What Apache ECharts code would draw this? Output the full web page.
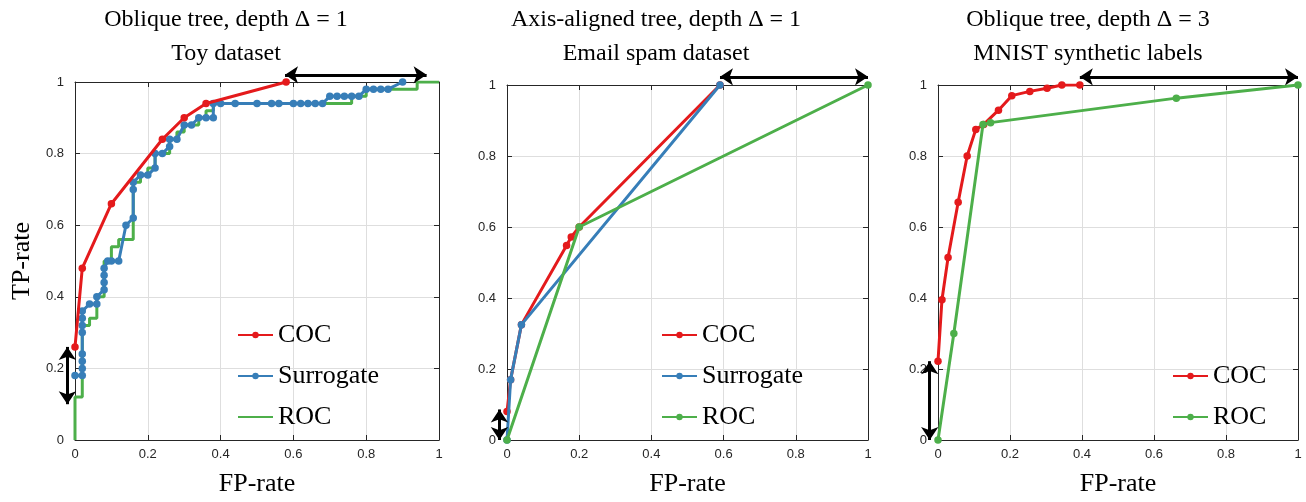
<!DOCTYPE html>
<html>
<head>
<meta charset="utf-8">
<script src="https://cdn.jsdelivr.net/npm/echarts@6/dist/echarts.min.js"></script>
<style>
html,body{margin:0;padding:0;background:#fff;}
#main{width:1306px;height:502px;}
</style>
</head>
<body>
<div id="main"></div>
<script>
// tick labels of both axes
var ticks=[0,0.2,0.4,0.6,0.8,1];

// panel 1 : oblique tree, toy dataset
var toyCOC=[[0,0.26],[0.02,0.48],[0.1,0.66],[0.24,0.84],[0.3,0.9],[0.36,0.94],[0.58,1]];
var toySurrogate=[[0,0.18],[0.02,0.18],[0.02,0.2],[0.02,0.22],[0.02,0.24],[0.02,0.3],[0.02,0.32],[0.02,0.34],
	[0.02,0.36],[0.04,0.38],[0.06,0.38],[0.06,0.4],[0.08,0.42],[0.08,0.44],[0.08,0.46],[0.08,0.48],[0.09,0.5],
	[0.1,0.5],[0.12,0.5],[0.14,0.6],[0.16,0.62],[0.16,0.7],[0.16,0.72],[0.18,0.74],[0.2,0.74],[0.22,0.76],
	[0.22,0.8],[0.24,0.8],[0.26,0.82],[0.26,0.84],[0.28,0.84],[0.3,0.88],[0.32,0.88],[0.34,0.9],[0.36,0.9],
	[0.38,0.9],[0.38,0.94],[0.4,0.94],[0.44,0.94],[0.5,0.94],[0.54,0.94],[0.56,0.94],[0.6,0.94],[0.62,0.94],
	[0.64,0.94],[0.66,0.94],[0.68,0.94],[0.7,0.96],[0.72,0.96],[0.74,0.96],[0.76,0.96],[0.78,0.96],
	[0.8,0.98],[0.82,0.98],[0.84,0.98],[0.86,0.98],[0.9,1]];
var toyROC=[[0,0],[0,0.12],[0.02,0.32],[0.04,0.34],[0.06,0.4],[0.08,0.5],[0.1,0.54],[0.12,0.56],[0.16,0.72],
	[0.18,0.74],[0.2,0.76],[0.22,0.8],[0.26,0.84],[0.28,0.86],[0.3,0.88],[0.34,0.9],[0.36,0.92],[0.38,0.94],
	[0.76,0.96],[0.8,0.98],[0.94,1],[1,1]];
var toyArrows=[[[0.577,1.02],[0.966,1.02]],[[-0.021,0.10],[-0.021,0.26]]];

// panel 2 : axis-aligned tree, email spam
var spamCOC=[[0,0.08],[0.01,0.17],[0.04,0.325],[0.165,0.548],[0.178,0.572],[0.2,0.6],[0.59,1]];
var spamSurrogate=[[0,0],[0.01,0.17],[0.04,0.325],[0.59,1]];
var spamROC=[[0,0],[0.2,0.6],[1,1]];
var spamArrows=[[[0.59,1.023],[1,1.023]],[[-0.021,0],[-0.021,0.086]]];

// panel 3 : oblique tree depth 3, MNIST
var mnistCOC=[[0,0.222],[0.011,0.395],[0.028,0.514],[0.056,0.67],[0.081,0.8],[0.105,0.875],[0.127,0.889],
	[0.168,0.929],[0.205,0.97],[0.255,0.982],[0.303,0.991],[0.344,1],[0.394,1]];
var mnistROC=[[0,0],[0.044,0.3],[0.125,0.889],[0.146,0.894],[0.662,0.963],[1,1]];
var mnistArrows=[[[0.394,1.023],[1,1.023]],[[-0.023,0],[-0.023,0.222]]];

var RED='#e41a1c',BLUE='#377eb8',GREEN='#4daf4a',AX='#262626';
var serif='"Liberation Serif","Times New Roman",serif';
var sans='"Liberation Sans",Arial,sans-serif';

var grids=[
	{left:75,top:82,width:364,height:364},
	{left:507,top:85,width:361,height:361},
	{left:938,top:85,width:360,height:361}
];
var titles=[
	['Oblique tree, depth \u0394 = 1','Toy dataset',226],
	['Axis-aligned tree, depth \u0394 = 1','Email spam dataset',656],
	['Oblique tree, depth \u0394 = 3','MNIST synthetic labels',1088]
];

var xAxis=[],yAxis=[];
for(var i=0;i<3;i++){
	xAxis.push({
		type:'value',gridIndex:i,min:0,max:1,interval:0.2,position:'bottom',
		name:'FP-rate',nameLocation:'middle',nameGap:31,
		nameTextStyle:{fontFamily:serif,fontSize:26,color:'#000'},
		axisLine:{show:true,onZero:false,lineStyle:{color:AX,width:1}},
		axisTick:{show:true,inside:true,length:5,lineStyle:{color:AX}},
		axisLabel:{fontFamily:sans,fontSize:13,color:AX,margin:8},
		splitLine:{show:true,lineStyle:{color:'#dedede',width:1}}
	});
	yAxis.push({
		type:'value',gridIndex:i,min:0,max:1,interval:0.2,position:'left',
		name:i==0?'TP-rate':'',nameLocation:'middle',nameGap:40,
		nameTextStyle:{fontFamily:serif,fontSize:26,color:'#000'},
		axisLine:{show:true,onZero:false,lineStyle:{color:AX,width:1}},
		axisTick:{show:true,inside:true,length:5,lineStyle:{color:AX}},
		axisLabel:{fontFamily:sans,fontSize:13,color:AX,margin:11},
		splitLine:{show:true,lineStyle:{color:'#dedede',width:1}}
	});
}
// top and right edges of the box
for(var i=0;i<3;i++){
	xAxis.push({type:'value',gridIndex:i,min:0,max:1,interval:0.2,position:'top',
		axisLine:{show:true,onZero:false,lineStyle:{color:AX,width:1}},
		axisTick:{show:true,inside:true,length:5,lineStyle:{color:AX}},
		axisLabel:{show:false},splitLine:{show:false}});
	yAxis.push({type:'value',gridIndex:i,min:0,max:1,interval:0.2,position:'right',
		axisLine:{show:true,onZero:false,lineStyle:{color:AX,width:1}},
		axisTick:{show:true,inside:true,length:5,lineStyle:{color:AX}},
		axisLabel:{show:false},splitLine:{show:false}});
}

function curve(name,idx,data,color,marker,step,z){
	return {
		name:name,type:'line',xAxisIndex:idx,yAxisIndex:idx,data:data,
		step:step||false,
		symbol:marker?'circle':'none',symbolSize:7.5,showSymbol:marker,
		itemStyle:{color:color},
		lineStyle:{color:color,width:3},
		z:z,animation:false
	};
}
function arrows(idx,list){
	return {
		type:'lines',coordinateSystem:'cartesian2d',xAxisIndex:idx,yAxisIndex:idx,clip:false,
		symbol:['arrow','arrow'],symbolSize:13,
		lineStyle:{color:'#000',width:3,opacity:1},
		data:list.map(function(c){return {coords:c};}),
		z:10,animation:false
	};
}

var series=[
	curve('ROC|0',0,toyROC,GREEN,false,'end',2),
	curve('Surrogate|0',0,toySurrogate,BLUE,true,false,3),
	curve('COC|0',0,toyCOC,RED,true,false,4),
	arrows(0,toyArrows),
	curve('COC|1',1,spamCOC,RED,true,false,2),
	curve('Surrogate|1',1,spamSurrogate,BLUE,true,false,3),
	curve('ROC|1',1,spamROC,GREEN,true,false,4),
	arrows(1,spamArrows),
	curve('COC|2',2,mnistCOC,RED,true,false,2),
	curve('ROC|2',2,mnistROC,GREEN,true,false,3),
	arrows(2,mnistArrows)
];

function legend(left,top,names){
	return {
		left:left,top:top,orient:'vertical',padding:0,itemGap:15,itemWidth:35,itemHeight:8,
		selectedMode:false,data:names,
		formatter:function(n){return n.split('|')[0];},
		textStyle:{fontFamily:serif,fontSize:26,color:'#000',lineHeight:26}
	};
}

var option={
	backgroundColor:'#fff',
	animation:false,
	title:titles.map(function(t){
		return {text:t[0]+'\n'+t[1],left:t[2],top:3,textAlign:'center',padding:0,
			textStyle:{fontFamily:serif,fontSize:24,fontWeight:'normal',color:'#000',lineHeight:34}};
	}),
	grid:grids,
	xAxis:xAxis,
	yAxis:yAxis,
	legend:[
		legend(237,322,['COC|0','Surrogate|0',{name:'ROC|0',itemStyle:{opacity:0}}]),
		legend(661,322,['COC|1','Surrogate|1','ROC|1']),
		legend(1172,363,['COC|2','ROC|2'])
	],
	series:series
};

var myChart=echarts.init(document.getElementById('main'),null,{renderer:'canvas'});
myChart.setOption(option);
</script>
</body>
</html>
